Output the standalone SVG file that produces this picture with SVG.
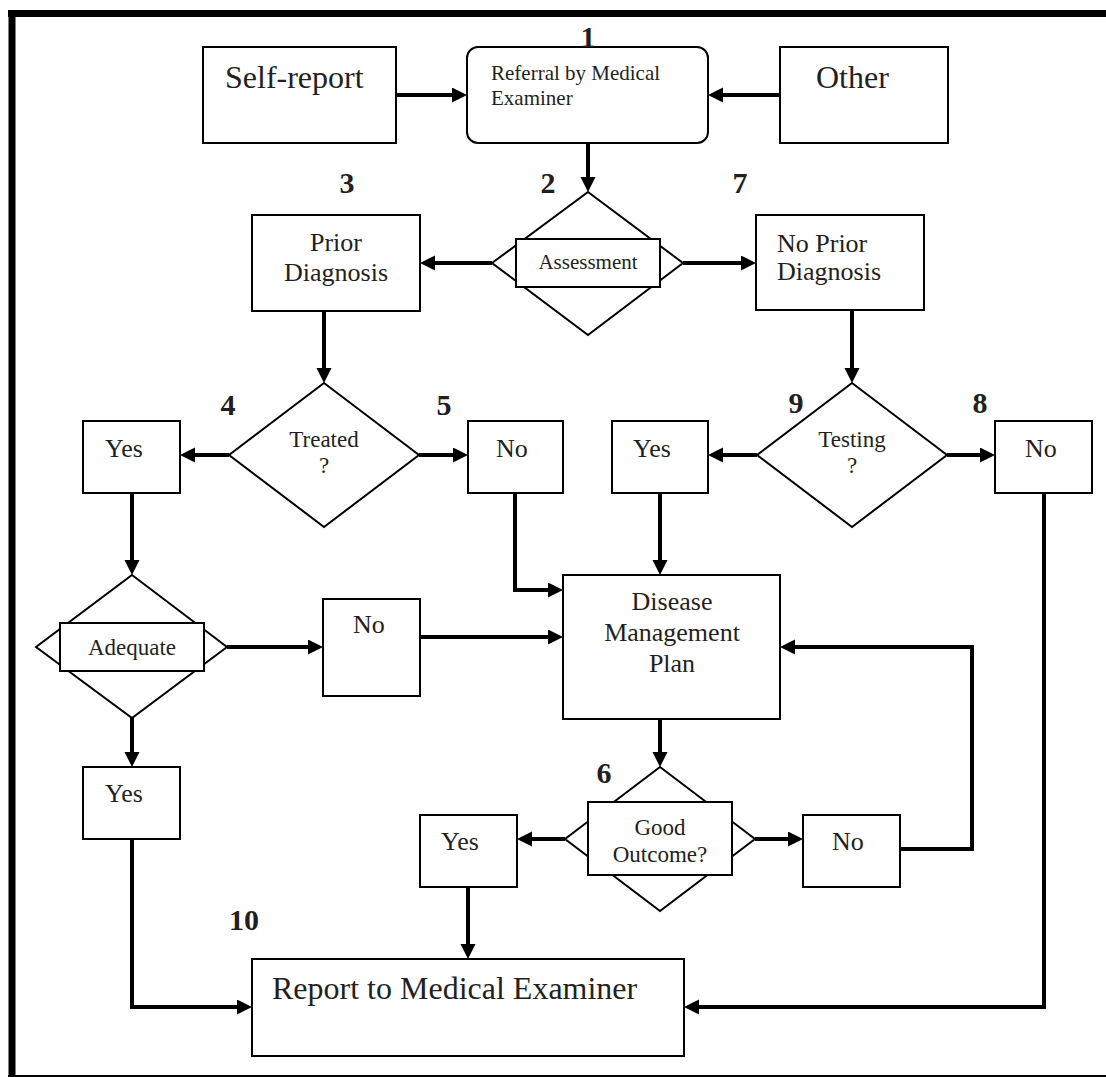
<svg xmlns="http://www.w3.org/2000/svg" width="1106" height="1077" viewBox="0 0 1106 1077">
<style>
.bx{fill:#fff;stroke:#000;stroke-width:2}
.t{font-family:"Liberation Serif","Times New Roman",serif;fill:#231f20}
.lg{font-size:32px}
.md{font-size:26px}
.sm{font-size:23px}
.xs{font-size:21px}
.num{font-family:"Liberation Serif","Times New Roman",serif;font-weight:bold;font-size:30px;fill:#231f20;text-anchor:middle}
.c{text-anchor:middle}
.cn{fill:none;stroke:#000;stroke-width:4;marker-end:url(#ah)}
</style>
<defs>
<marker id="ah" markerUnits="userSpaceOnUse" markerWidth="16" markerHeight="16" refX="1" refY="7.5" orient="auto">
<path d="M0,0 L15,7.5 L0,15 Z" fill="#000"/>
</marker>
</defs>
<rect width="1106" height="1077" fill="#fff"/>
<g id="frame">
<line x1="8" y1="13.5" x2="1106" y2="13.5" stroke="#000" stroke-width="7"/>
<line x1="12" y1="10" x2="12" y2="1077" stroke="#000" stroke-width="7"/>
<line x1="8" y1="1076" x2="1106" y2="1076" stroke="#000" stroke-width="2"/>
</g>
<g id="connectors">
<path class="cn" d="M396,95 H453"/>
<path class="cn" d="M780,95 H722"/>
<path class="cn" d="M588,143 V178"/>
<path class="cn" d="M492,263 H434"/>
<path class="cn" d="M683,263 H742"/>
<path class="cn" d="M324,311 V369"/>
<path class="cn" d="M852,310 V369"/>
<path class="cn" d="M229,455 H194"/>
<path class="cn" d="M419,455 H454"/>
<path class="cn" d="M757,455 H722"/>
<path class="cn" d="M947,455 H981"/>
<path class="cn" d="M132,493 V561"/>
<path class="cn" d="M515,493 V590 H549"/>
<path class="cn" d="M660,493 V561"/>
<path class="cn" d="M227,647 H309"/>
<path class="cn" d="M420,637 H549"/>
<path class="cn" d="M132,718 V753"/>
<path class="cn" d="M132,839 V1007 H238"/>
<path class="cn" d="M660,719 V753"/>
<path class="cn" d="M565,839 H531"/>
<path class="cn" d="M755,839 H789"/>
<path class="cn" d="M900,849 H972 V647 H794"/>
<path class="cn" d="M468,887 V945"/>
<path class="cn" d="M1044,493 V1007 H698"/>
</g>
<g id="self-report">
<rect class="bx" x="203" y="47" width="193" height="96"/>
<text class="t lg" x="225" y="88">Self-report</text>
</g>
<g id="referral">
<rect class="bx" x="467" y="47" width="241" height="96" rx="11"/>
<text class="t xs" x="491" y="80">Referral by Medical</text>
<text class="t xs" x="491" y="105">Examiner</text>
<text class="num" x="588" y="47">1</text>
</g>
<g id="other">
<rect class="bx" x="780" y="47" width="168" height="96"/>
<text class="t lg" x="816" y="88">Other</text>
</g>
<g id="assessment">
<polygon class="bx" points="588,192 683,263 588,335 492,263"/>
<rect class="bx" x="516" y="239" width="144" height="48"/>
<text class="t xs c" x="588" y="269">Assessment</text>
<text class="num" x="548" y="193">2</text>
</g>
<g id="prior-diagnosis">
<rect class="bx" x="252" y="215" width="168" height="96"/>
<text class="t md c" x="336" y="251">Prior</text>
<text class="t md c" x="336" y="281">Diagnosis</text>
<text class="num" x="347" y="193">3</text>
</g>
<g id="no-prior-diagnosis">
<rect class="bx" x="756" y="215" width="168" height="95"/>
<text class="t md" x="777" y="252">No Prior</text>
<text class="t md" x="777" y="280">Diagnosis</text>
<text class="num" x="740" y="193">7</text>
</g>
<g id="treated">
<polygon class="bx" points="324,383 419,455 324,527 229,455"/>
<text class="t sm c" x="324" y="447">Treated</text>
<text class="t sm c" x="324" y="473">?</text>
</g>
<g id="testing">
<polygon class="bx" points="852,383 947,455 852,527 757,455"/>
<text class="t sm c" x="852" y="447">Testing</text>
<text class="t sm c" x="852" y="473">?</text>
</g>
<g id="yes-treated">
<rect class="bx" x="83" y="421" width="97" height="72"/>
<text class="t md" x="105" y="457">Yes</text>
<text class="num" x="228" y="415">4</text>
</g>
<g id="no-treated">
<rect class="bx" x="468" y="421" width="95" height="72"/>
<text class="t md" x="496" y="457">No</text>
<text class="num" x="444" y="415">5</text>
</g>
<g id="yes-testing">
<rect class="bx" x="612" y="421" width="96" height="72"/>
<text class="t md" x="633" y="457">Yes</text>
<text class="num" x="796" y="413">9</text>
</g>
<g id="no-testing">
<rect class="bx" x="995" y="421" width="97" height="72"/>
<text class="t md" x="1025" y="457">No</text>
<text class="num" x="980" y="413">8</text>
</g>
<g id="adequate">
<polygon class="bx" points="132,575 227,647 132,718 36,647"/>
<rect class="bx" x="60" y="623" width="144" height="48"/>
<text class="t sm c" x="132" y="655">Adequate</text>
</g>
<g id="no-adequate">
<rect class="bx" x="323" y="599" width="97" height="97"/>
<text class="t md" x="353" y="633">No</text>
</g>
<g id="disease-management-plan">
<rect class="bx" x="563" y="575" width="217" height="144"/>
<text class="t md c" x="672" y="610">Disease</text>
<text class="t md c" x="672" y="641">Management</text>
<text class="t md c" x="672" y="672">Plan</text>
</g>
<g id="yes-adequate">
<rect class="bx" x="83" y="767" width="97" height="72"/>
<text class="t md" x="105" y="802">Yes</text>
</g>
<g id="good-outcome">
<polygon class="bx" points="660,767 755,839 660,911 565,839"/>
<rect class="bx" x="588" y="802" width="144" height="73"/>
<text class="t sm c" x="660" y="835">Good</text>
<text class="t sm c" x="660" y="862">Outcome?</text>
<text class="num" x="604" y="783">6</text>
</g>
<g id="yes-outcome">
<rect class="bx" x="420" y="815" width="97" height="72"/>
<text class="t md" x="441" y="850">Yes</text>
</g>
<g id="no-outcome">
<rect class="bx" x="803" y="815" width="97" height="72"/>
<text class="t md" x="832" y="850">No</text>
</g>
<g id="report">
<rect class="bx" x="252" y="959" width="432" height="97"/>
<text class="t lg" x="272" y="999">Report to Medical Examiner</text>
<text class="num" x="244" y="930">10</text>
</g>
</svg>
